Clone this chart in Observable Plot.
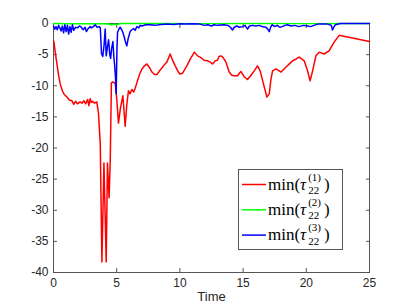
<!DOCTYPE html>
<html><head><meta charset="utf-8">
<script src="https://cdn.jsdelivr.net/npm/d3@7"></script>
<script src="https://cdn.jsdelivr.net/npm/@observablehq/plot@0.6"></script>
<style>body{margin:0;background:#fff;} #chart{position:relative;width:408px;height:306px;}</style>
</head><body><div id="chart"></div>
<script>
const xTicks = [0, 5, 10, 15, 20, 25];
const yTicks = [0, -5, -10, -15, -20, -25, -30, -35, -40];
const seriesNames = ["1", "2", "3"];
const seriesColors = ["#ff0000", "#00ff00", "#0000ff"];

// [time, value]
const red = [
  [0.02,-2.8],[0.15,-4.8],[0.27,-6.5],[0.4,-8.3],[0.53,-9.7],[0.7,-10.8],[0.85,-11.4],[1.06,-11.8],
  [1.25,-12.3],[1.45,-12.4],[1.6,-13.0],[1.75,-12.5],[1.9,-12.9],[2.1,-12.6],[2.25,-12.8],[2.4,-12.4],
  [2.55,-12.9],[2.7,-12.2],[2.8,-13.2],[2.9,-12.1],[3.0,-12.7],[3.1,-12.5],[3.25,-12.8],[3.43,-12.6],
  [3.56,-14.5],[3.7,-19.3],[3.83,-38.3],[3.99,-22.4],[4.17,-38.3],[4.27,-22.4],[4.4,-28],[4.49,-22],
  [4.58,-9.5],[4.7,-9.4],[4.88,-9.6],[5.0,-12],[5.14,-16.0],[5.3,-13.5],[5.49,-11.6],[5.67,-16.5],
  [5.8,-13],[5.93,-10.8],[6.05,-11.3],[6.2,-10.6],[6.35,-11],[6.46,-10.4],[6.6,-9.5],[6.8,-8.2],
  [7.0,-7.3],[7.2,-6.8],[7.39,-6.5],[7.6,-7.1],[7.79,-7.8],[8.0,-8.2],[8.18,-8.2],[8.4,-7.6],
  [8.7,-6.8],[8.97,-6.2],[9.23,-4.9],[9.4,-5.8],[9.63,-6.8],[9.85,-7.7],[10.0,-8.1],[10.2,-8.0],
  [10.55,-6.8],[10.85,-5.6],[11.15,-4.6],[11.4,-5.2],[11.6,-5.4],[11.92,-5.9],[12.2,-6.0],[12.4,-6.2],
  [12.58,-6.5],[12.8,-6.0],[12.97,-5.9],[13.1,-5.3],[13.24,-5.2],[13.4,-5.4],[13.64,-6.2],[13.9,-7.8],
  [14.1,-8.3],[14.3,-8.4],[14.56,-8.4],[14.7,-8.0],[14.83,-7.7],[15.1,-8.6],[15.35,-9.0],[15.6,-8.4],
  [15.88,-7.6],[16.14,-6.8],[16.35,-7.6],[16.61,-9.7],[16.88,-11.8],[17.07,-11.3],[17.2,-9.0],[17.33,-7.6],
  [17.6,-7.3],[18.0,-7.8],[18.4,-7.0],[18.91,-6.0],[19.2,-5.7],[19.44,-5.4],[19.83,-6.0],[20.1,-7.6],
  [20.3,-9.2],[20.5,-7.6],[20.76,-5.2],[21.02,-4.6],[21.42,-4.9],[21.8,-4.4],[22.2,-3.0],[22.6,-1.9],
  [22.87,-2.0],[25,-2.9]
];
const green = [
  [0,0],[1,-0.03],[2,-0.05],[3,-0.03],[3.8,-0.05],[4.4,-0.08],[4.6,-0.25],[4.8,-0.1],[5.0,-0.2],
  [5.3,0],[8,0],[12,-0.02],[16,0],[20,-0.02],[25,0]
];
const blue = [
  [0,-0.4],[0.1,-0.9],[0.2,-0.5],[0.3,-1.0],[0.4,-0.3],[0.5,-0.7],[0.6,-1.2],[0.7,-0.4],[0.8,-1.5],
  [0.9,-0.2],[1.0,-1.3],[1.1,-0.3],[1.2,-1.7],[1.3,-0.5],[1.4,-1.4],[1.5,-0.2],[1.6,-1.1],[1.75,-0.6],
  [1.9,-0.7],[2.05,-0.4],[2.2,-0.6],[2.35,-1.0],[2.5,-0.6],[2.6,-1.3],[2.75,-0.8],[2.9,-0.5],[3.0,-0.7],
  [3.15,-0.5],[3.3,-0.2],[3.45,-0.6],[3.6,-0.5],[3.7,-0.7],[3.8,-4.9],[3.9,-5.3],[4.0,-3.5],[4.09,-0.9],
  [4.17,-5.2],[4.25,-4.0],[4.36,-2.6],[4.45,-5.0],[4.52,-5.6],[4.6,-4.0],[4.7,-2.9],[4.78,-5.5],
  [4.83,-6.5],[4.9,-8.5],[4.96,-11.3],[5.02,-4.0],[5.07,-1.4],[5.15,-1.0],[5.27,-0.6],[5.4,-1.0],
  [5.5,-1.5],[5.6,-2.2],[5.7,-3.0],[5.8,-3.6],[5.9,-2.5],[6.06,-1.3],[6.2,-1.0],[6.33,-0.8],[6.45,-1.1],
  [6.6,-0.5],[6.75,-0.7],[6.86,-0.3],[7.0,-0.4],[7.3,-0.2],[7.65,-0.2],[8.0,-0.3],[8.5,-0.15],[9.0,-0.1],
  [9.5,-0.15],[10.0,-0.05],[10.5,-0.1],[11.0,-0.05],[11.6,-0.1],[11.92,-0.3],[12.2,-0.2],[12.5,-0.4],
  [12.7,-0.2],[13.0,-0.3],[13.5,-0.2],[13.8,-0.3],[14.0,-0.6],[14.16,-1.05],[14.3,-0.6],[14.5,-0.4],
  [14.7,-0.6],[14.96,-0.5],[15.15,-0.3],[15.35,-0.9],[15.5,-0.4],[15.75,-0.3],[16.0,-0.4],[16.3,-0.3],
  [16.5,-0.5],[16.8,-0.6],[16.95,-0.9],[17.07,-1.3],[17.2,-0.5],[17.3,-0.2],[17.5,-0.5],[17.7,-0.3],
  [17.9,-0.6],[18.1,-0.5],[18.3,-0.3],[18.5,-0.2],[18.8,-0.4],[19.1,-0.3],[19.4,-0.5],[19.8,-0.3],
  [20.1,-0.4],[20.35,-0.5],[20.6,-0.3],[20.9,-0.1],[21.3,-0.1],[21.7,-0.1],[21.98,-0.3],[22.07,-1.05],
  [22.2,-0.5],[22.3,-0.2],[22.7,0],[25,0]
];

const axisColor = "#262626";
const plot = Plot.plot({
  width: 408, height: 306,
  marginLeft: 53, marginRight: 39, marginTop: 23, marginBottom: 34,
  style: {fontFamily: "'Liberation Sans', Arial, sans-serif", fontSize: "12px", color: axisColor, background: "#fff"},
  x: {domain: [0, 25]},
  y: {domain: [-40, 0]},
  marks: [
    Plot.frame({stroke: "#555", strokeWidth: 1}),
    Plot.axisX({ticks: xTicks, tickSize: 0, tickPadding: 6, label: null, tickFormat: d => String(d)}),
    Plot.axisY({ticks: yTicks, tickSize: 0, tickPadding: 5, label: null, tickFormat: d => String(d)}),
    Plot.axisX({anchor: "bottom", ticks: xTicks, tickSize: -4, fill: "none", label: null, stroke: "#555"}),
    Plot.axisX({anchor: "top", ticks: xTicks, tickSize: -4, fill: "none", label: null, stroke: "#555"}),
    Plot.axisY({anchor: "left", ticks: yTicks, tickSize: -4, fill: "none", label: null, stroke: "#555"}),
    Plot.axisY({anchor: "right", ticks: yTicks, tickSize: -4, fill: "none", label: null, stroke: "#555"}),
    Plot.text(["Time"], {frameAnchor: "bottom", lineAnchor: "bottom", dy: 28, fontSize: 13, fill: axisColor}),
    Plot.line(red, {x: d => d[0], y: d => d[1], stroke: seriesColors[0], strokeWidth: 1.5}),
    Plot.line(green, {x: d => d[0], y: d => d[1], stroke: seriesColors[1], strokeWidth: 1.5}),
    Plot.line(blue, {x: d => d[0], y: d => d[1], stroke: seriesColors[2], strokeWidth: 1.5})
  ]
});
document.getElementById("chart").appendChild(plot);

// Legend (MATLAB-style box, lower right)
const svg = d3.select(plot);
const lg = svg.append("g").attr("class", "legend").attr("text-anchor", "start");
lg.append("rect").attr("x", 238.5).attr("y", 169.5).attr("width", 104).attr("height", 80)
  .attr("fill", "#fff").attr("stroke", "#555");
const serif = "'Liberation Serif', 'Times New Roman', serif";
seriesNames.forEach((name, i) => {
  const cy = 184.5 + i * 25.3;
  lg.append("line").attr("x1", 242).attr("x2", 266).attr("y1", cy).attr("y2", cy)
    .attr("stroke", seriesColors[i]).attr("stroke-width", 1.5);
  const x0 = 268;
  const t = lg.append("text").attr("x", x0).attr("y", cy + 5)
    .attr("font-family", serif).attr("font-size", 17).attr("fill", "#000");
  t.append("tspan").text("min(");
  t.append("tspan").attr("font-style", "italic").text("τ");
  const w1 = t.node().getComputedTextLength();
  const xs = x0 + w1 + 2;
  const sup = t.append("tspan").attr("x", xs).attr("y", cy - 4).attr("font-size", 11).text("(" + name + ")");
  const ws = sup.node().getComputedTextLength();
  const sub = t.append("tspan").attr("x", xs).attr("y", cy + 9.5).attr("font-size", 11).text("22");
  const wb = sub.node().getComputedTextLength();
  t.append("tspan").attr("x", xs + Math.max(ws, wb) + 3).attr("y", cy + 5).text(")");
});
</script>
</body></html>
